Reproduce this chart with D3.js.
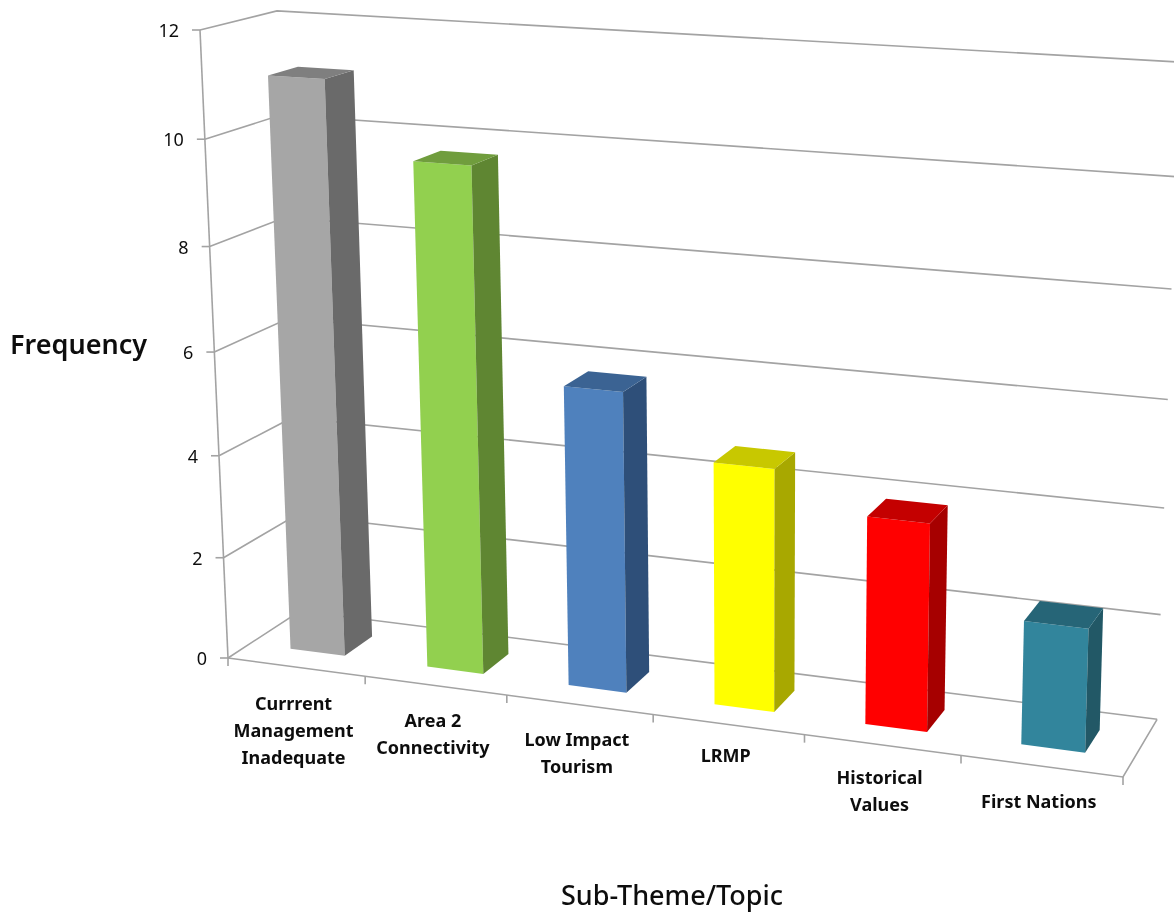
<!DOCTYPE html>
<html>
<head>
  <meta charset="utf-8">
  <script src="https://d3js.org/d3.v7.min.js"></script>
  <style>
    body { margin: 0; background: #fff; }
    svg { display: block; }
    text { font-family: "Noto Sans", "Open Sans", sans-serif; fill: #111; }
  </style>
</head>
<body>
  <div id="chart"></div>

  <script>
    // Chart values
    const categories = ["Currrent Management Inadequate", "Area 2 Connectivity", "Low Impact Tourism", "LRMP", "Historical Values", "First Nations"];
    const labelLines = [["Currrent", "Management", "Inadequate"], ["Area 2", "Connectivity"], ["Low Impact", "Tourism"], ["LRMP"], ["Historical", "Values"], ["First Nations"]];
    const frequency = [11.1, 9.7, 5.75, 4.6, 3.9, 2.3];

    // Face colours of each bar
    const frontColors = ["#a6a6a6", "#92d050", "#4f81bd", "#ffff00", "#ff0000", "#31859c"];
    const sideColors = ["#6b6b6b", "#5f8632", "#2f5079", "#a8a800", "#a60000", "#205866"];
    const topColors = ["#7f7f7f", "#6f9d3c", "#3b6493", "#c8c800", "#c40000", "#256577"];

    const width = 1174, height = 913;

    // Scales go to the unit cube, project() then takes the cube to the screen
    const x = d3.scaleBand().domain(categories).range([0, 1]).paddingInner(0.6).paddingOuter(0.3);
    const y = d3.scaleLinear().domain([0, 12]).range([0, 1]);
    const depth = d3.scaleBand().domain(["bar"]).range([0, 1]).paddingInner(0).paddingOuter(0.75);

    // Perspective camera: where the box corners land, and the foreshortening along each axis
    const origin = [228, 658], endX = [1123, 777], endDepth = [300, 611], endY = [200, 30];
    const persp = { x: -0.095, d: 0.048, y: -0.05 };
    const axisVec = (p, k) => [p[0] * (1 + k) - origin[0], p[1] * (1 + k) - origin[1]];
    const ax = axisVec(endX, persp.x), ad = axisVec(endDepth, persp.d), ay = axisVec(endY, persp.y);

    function project(u, d, v) {
      const w = 1 + persp.x * u + persp.d * d + persp.y * v;
      return [
        (origin[0] + ax[0] * u + ad[0] * d + ay[0] * v) / w,
        (origin[1] + ax[1] * u + ad[1] * d + ay[1] * v) / w
      ];
    }

    const line = d3.line();

    const svg = d3.select("#chart").append("svg")
      .attr("width", width)
      .attr("height", height);

    // the reference is a slightly soft screenshot
    svg.append("filter").attr("id", "soft")
      .append("feGaussianBlur").attr("stdDeviation", 0.45);

    const g = svg.append("g").attr("filter", "url(#soft)");

    const gridColor = "#a3a3a3";
    const yTicks = y.ticks(6);

    // Wall grid lines
    g.append("g").selectAll("path")
      .data(yTicks)
      .join("path")
      .attr("d", t => line([project(0, 0, y(t)), project(0, 1, y(t)), project(1, 1, y(t))]))
      .attr("fill", "none")
      .attr("stroke", gridColor)
      .attr("stroke-width", 1.6);

    // Floor edges and value axis
    g.append("path")
      .attr("d", line([project(0, 0, 0), project(1, 0, 0), project(1, 1, 0)]))
      .attr("fill", "none").attr("stroke", gridColor).attr("stroke-width", 1.6);
    g.append("path")
      .attr("d", line([project(0, 0, 0), project(0, 0, 1)]))
      .attr("fill", "none").attr("stroke", gridColor).attr("stroke-width", 1.6);

    // Value ticks
    g.append("g").selectAll("path")
      .data(yTicks)
      .join("path")
      .attr("d", t => {
        const p = project(0, 0, y(t));
        return line([[p[0] - 8, p[1]], p]);
      })
      .attr("stroke", gridColor).attr("stroke-width", 1.6);

    g.append("g").selectAll("text")
      .data(yTicks)
      .join("text")
      .attr("x", t => project(0, 0, y(t))[0] - 21)
      .attr("y", t => project(0, 0, y(t))[1])
      .attr("dy", "0.4em")
      .attr("text-anchor", "end")
      .style("font-size", "18px")
      .text(t => t);

    // Category ticks
    const step = x.step();
    g.append("g").selectAll("path")
      .data(d3.range(categories.length + 1))
      .join("path")
      .attr("d", i => {
        const p = project(i * step, 0, 0);
        return line([p, [p[0], p[1] + 8]]);
      })
      .attr("stroke", gridColor).attr("stroke-width", 1.6);

    // Bars, left to right
    const bars = g.append("g").selectAll("g")
      .data(categories.map((c, i) => ({ c, i, value: frequency[i] })))
      .join("g");

    const d0 = depth("bar"), d1 = d0 + depth.bandwidth();

    bars.append("path") // front
      .attr("d", b => {
        const u0 = x(b.c), u1 = u0 + x.bandwidth(), v = y(b.value);
        return line([project(u0, d0, 0), project(u1, d0, 0), project(u1, d0, v), project(u0, d0, v)]) + "Z";
      })
      .attr("fill", b => frontColors[b.i]);

    bars.append("path") // side
      .attr("d", b => {
        const u1 = x(b.c) + x.bandwidth(), v = y(b.value);
        return line([project(u1, d0, 0), project(u1, d1, 0), project(u1, d1, v), project(u1, d0, v)]) + "Z";
      })
      .attr("fill", b => sideColors[b.i]);

    bars.append("path") // top
      .attr("d", b => {
        const u0 = x(b.c), u1 = u0 + x.bandwidth(), v = y(b.value);
        return line([project(u0, d0, v), project(u1, d0, v), project(u1, d1, v), project(u0, d1, v)]) + "Z";
      })
      .attr("fill", b => topColors[b.i]);

    // Category labels, dropped below the front edge by a per-label gap
    const labelGap = [43, 41, 41, 37, 39, 42];
    g.append("g").selectAll("text")
      .data(categories.map((c, i) => ({ c, i })))
      .join("text")
      .attr("text-anchor", "middle")
      .style("font-size", "18px")
      .style("font-weight", 700)
      .each(function (d) {
        const p = project(x(d.c) + x.bandwidth() / 2, 0, 0);
        d3.select(this).selectAll("tspan")
          .data(labelLines[d.i])
          .join("tspan")
          .attr("x", p[0] - 2.5)
          .attr("y", (s, k) => p[1] + labelGap[d.i] + k * 27)
          .text(s => s);
      });

    // Axis titles
    g.append("text")
      .attr("x", 10).attr("y", 354)
      .style("font-size", "27px").style("font-weight", 600)
      .text("Frequency");

    g.append("text")
      .attr("x", 672).attr("y", 905)
      .attr("text-anchor", "middle")
      .style("font-size", "27px").style("font-weight", 500)
      .text("Sub-Theme/Topic");
  </script>
</body>
</html>
